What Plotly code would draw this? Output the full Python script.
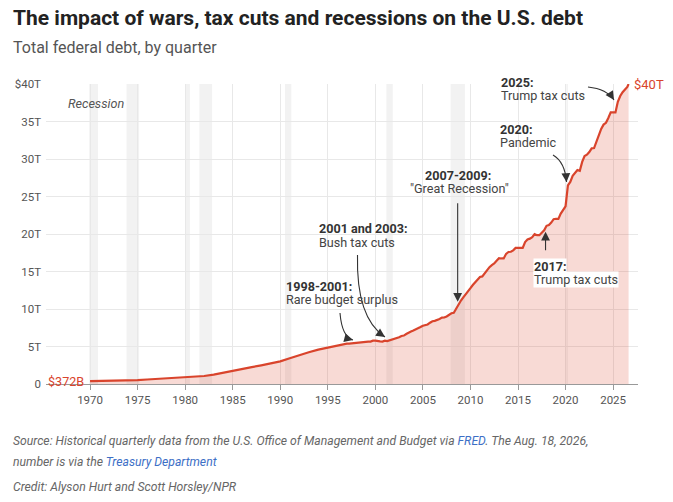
import plotly.graph_objects as go

# Total federal debt, trillions of dollars (FRED GFDEBTN)
# 1970-1996: one reading per year (Q1)
early_years = list(range(1970, 1997))
early_debt = [0.372, 0.391, 0.428, 0.458, 0.475, 0.512, 0.599, 0.672, 0.740, 0.808,
              0.862, 0.964, 1.064, 1.252, 1.477, 1.719, 2.002, 2.244, 2.487, 2.738,
              3.022, 3.440, 3.881, 4.230, 4.575, 4.865, 5.117]

# 1997 onward: quarterly (Q1..Q4)
quarter_start_year = 1997
quarterly_debt = [
    5.381, 5.377, 5.413, 5.502,   # 1997
    5.543, 5.548, 5.526, 5.614,   # 1998
    5.651, 5.639, 5.656, 5.776,   # 1999
    5.773, 5.686, 5.674, 5.662,   # 2000
    5.775, 5.727, 5.807, 5.943,   # 2001
    6.006, 6.126, 6.228, 6.405,   # 2002
    6.460, 6.670, 6.783, 6.998,   # 2003
    7.131, 7.274, 7.379, 7.596,   # 2004
    7.777, 7.836, 7.933, 8.170,   # 2005
    8.371, 8.420, 8.507, 8.680,   # 2006
    8.849, 8.868, 9.008, 9.229,   # 2007
    9.437, 9.492, 10.025, 10.700,   # 2008
    11.127, 11.545, 11.910, 12.311,   # 2009
    12.773, 13.202, 13.562, 14.025,   # 2010
    14.270, 14.343, 14.790, 15.223,   # 2011
    15.582, 15.856, 16.066, 16.433,   # 2012
    16.771, 16.738, 16.738, 17.352,   # 2013
    17.601, 17.633, 17.824, 18.141,   # 2014
    18.152, 18.152, 18.151, 18.922,   # 2015
    19.264, 19.381, 19.573, 19.977,   # 2016
    19.846, 19.845, 20.245, 20.493,   # 2017
    21.090, 21.195, 21.516, 21.974,   # 2018
    22.028, 22.023, 22.720, 23.201,   # 2019
    23.687, 26.477, 26.945, 27.748,   # 2020
    28.133, 28.529, 28.428, 29.617,   # 2021
    30.401, 30.568, 30.929, 31.420,   # 2022
    31.458, 32.333, 33.167, 34.001,   # 2023
    34.587, 34.832, 35.465, 36.219,   # 2024
    36.215, 36.214, 37.638, 38.400,   # 2025
    38.900, 39.250, 39.600,           # 2026
]
last_date = "2026-08-18"
last_debt = 40.0

# NBER recessions
recession_start = ["1969-12-01", "1973-11-01", "1980-01-01", "1981-07-01",
                   "1990-07-01", "2001-03-01", "2007-12-01", "2020-02-01"]
recession_end = ["1970-11-01", "1975-03-01", "1980-07-01", "1982-11-01",
                 "1991-03-01", "2001-11-01", "2009-06-01", "2020-04-01"]

x_ticks = list(range(1970, 2030, 5))
y_ticks = [0, 5, 10, 15, 20, 25, 30, 35, 40]
y_ticktext = ["0", "5T", "10T", "15T", "20T", "25T", "30T", "35T", "$40T"]

RED = "#d9442c"
FONT = "Roboto"
NOTE = 12.6

dates = ["%d-01-01" % y for y in early_years]
for i, v in enumerate(quarterly_debt):
    dates.append("%d-%02d-01" % (quarter_start_year + i // 4, 1 + 3 * (i % 4)))
dates.append(last_date)
debt = early_debt + quarterly_debt + [last_debt]

W, H = 673, 502
L, R, T, B = 46, 638, 84, 384


def px(x):
    return (x - L) / (R - L)


def py(y):
    return (B - y) / (B - T)


fig = go.Figure()
fig.add_trace(go.Scatter(x=dates, y=debt, mode="lines",
                         line=dict(color=RED, width=2.2),
                         fill="tozeroy", fillcolor="rgba(222,70,45,0.2)",
                         hoverinfo="skip"))

for s, e in zip(recession_start, recession_end):
    fig.add_vrect(x0=s, x1=e, fillcolor="#f2f2f2", line_width=0, layer="below")


def text(x, y, s, size=NOTE, color="#444", anchor="left", bold=False, italic=False, bg=None):
    if bold:
        s = "<b>" + s + "</b>"
    if italic:
        s = "<i>" + s + "</i>"
    fig.add_annotation(x=px(x), y=py(y), xref="paper", yref="paper", text=s,
                       showarrow=False, xanchor=anchor, yanchor="middle",
                       font=dict(family=FONT, size=size, color=color),
                       bgcolor=bg, borderpad=0)


def note(x, y, head, body, anchor="left", bg=None, dx=0):
    # bold heading line with a plain line under it
    text(x, y, head, bold=True, color="#333", anchor=anchor, bg=bg)
    text(x + dx, y + 13.4, body, anchor=anchor, bg=bg)


def curve(x0, y0, cx, cy, x1, y1):
    path = "M %f %f Q %f %f %f %f" % (px(x0), py(y0), px(cx), py(cy), px(x1), py(y1))
    fig.add_shape(type="path", path=path, xref="paper", yref="paper",
                  line=dict(color="#333", width=1.1))
    # arrow head along the tangent at the tip
    dx, dy = cx - x1, cy - y1
    n = (dx * dx + dy * dy) ** 0.5
    fig.add_annotation(x=px(x1), y=py(y1), xref="paper", yref="paper", text="",
                       showarrow=True, ax=dx / n * 6, ay=dy / n * 6,
                       arrowhead=2, arrowsize=1.6, arrowwidth=1.1, arrowcolor="#333")


# title block
text(12, 18, "The impact of wars, tax cuts and recessions on the U.S. debt",
     size=21, color="#222", bold=True)
text(12, 47, "Total federal debt, by quarter", size=16, color="#555")

text(67, 103, "Recession", color="#555", italic=True)
text(85, 381, "$372B", color=RED, anchor="right")
text(633, 84, "$40T", size=13, color=RED)

# annotations
note(285, 286, "1998-2001:", "Rare budget surplus")
curve(340, 313, 342, 337, 353, 340)

note(318, 229, "2001 and 2003:", "Bush tax cuts")
curve(357.5, 255, 356, 318, 385, 337)

note(458, 175, "2007-2009:", '"Great Recession"', anchor="center", dx=1)
fig.add_annotation(x="2008-08-28", y=10.97, text="", showarrow=True, ax=0, ay=-100,
                   arrowhead=2, arrowsize=1.6, arrowwidth=1.1, arrowcolor="#333")

note(532.5, 266, "2017:", "Trump tax cuts", bg="white")
fig.add_annotation(x="2017-11-24", y=20.3, text="", showarrow=True, ax=0, ay=20,
                   arrowhead=2, arrowsize=1.6, arrowwidth=1.1, arrowcolor="#333")

note(499, 129, "2020:", "Pandemic")
curve(553, 155, 565, 162, 566.5, 182)

note(500, 82.5, "2025:", "Trump tax cuts")
curve(588, 87, 607, 89, 614, 100)

# footer
src = ('Source: Historical quarterly data from the U.S. Office of Management and Budget via '
       '<span style="color:#3d6fc6">FRED</span>. The Aug. 18, 2026,')
text(12, 441, src, size=12.2, color="#666", italic=True)
text(12, 462, 'number is via the <span style="color:#3d6fc6">Treasury Department</span>',
     size=12.2, color="#666", italic=True)
text(12, 487, "Credit: Alyson Hurt and Scott Horsley/NPR", size=12.2, color="#666", italic=True)

fig.update_xaxes(type="date", range=["1965-05-15", "2027-08-15"],
                 tickvals=["%d-01-01" % y for y in x_ticks], ticktext=[str(y) for y in x_ticks],
                 showgrid=True, gridcolor="#e8e8e8", gridwidth=1,
                 showline=True, linecolor="#999", linewidth=1,
                 ticks="outside", ticklen=5, tickcolor="#999",
                 tickfont=dict(family=FONT, size=11.5, color="#555"), zeroline=False)
fig.update_yaxes(range=[0, 40], tickvals=y_ticks, ticktext=y_ticktext,
                 showgrid=True, gridcolor="#e8e8e8", gridwidth=1, zeroline=False,
                 ticks="", ticklabelstandoff=4,
                 tickfont=dict(family=FONT, size=11.5, color="#555"))
fig.update_layout(width=W, height=H, margin=dict(l=L, r=W - R, t=T, b=H - B),
                  plot_bgcolor="white", paper_bgcolor="white", showlegend=False,
                  font=dict(family=FONT))

fig.write_html("out.html", config={"displayModeBar": False},
               post_script="document.body.style.margin='0';")
